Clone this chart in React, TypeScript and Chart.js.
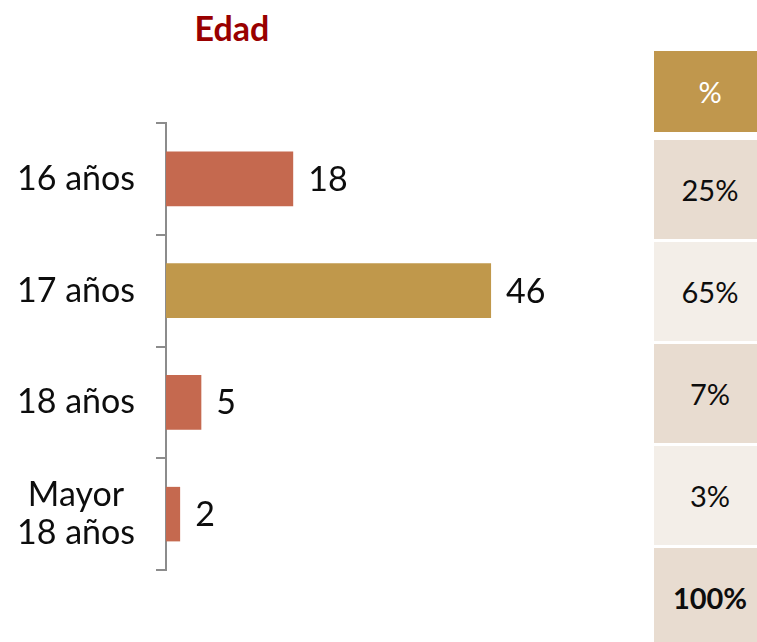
import React, { useEffect, useRef } from "react";
import { Chart, registerables } from "chart.js";

Chart.register(...registerables);

const title = "Edad";
const categories: (string | string[])[] = ["16 años", "17 años", "18 años", ["Mayor", "18 años"]];
const counts = [18, 46, 5, 2];
const barColors = ["#C5694F", "#C0984B", "#C5694F", "#C5694F"];
const tableHeader = "%";
const percentages = ["25%", "65%", "7%", "3%"];
const totalLabel = "100%";
const rowColors = ["#E8DCD0", "#F3EEE8", "#E8DCD0", "#F3EEE8"];

const FONT = "Lato, 'Open Sans', sans-serif";

const valueLabels = {
  id: "valueLabels",
  afterDatasetsDraw(chart: any) {
    const ctx = chart.ctx;
    const meta = chart.getDatasetMeta(0);
    ctx.save();
    ctx.font = `34px ${FONT}`;
    ctx.fillStyle = "#0D0D0D";
    ctx.textAlign = "left";
    ctx.textBaseline = "middle";
    meta.data.forEach((bar: any, i: number) => {
      ctx.fillText(String(chart.data.datasets[0].data[i]), bar.x + 15, bar.y + 1);
    });
    ctx.restore();
  },
};

export default function App() {
  const canvasRef = useRef<HTMLCanvasElement>(null);

  useEffect(() => {
    if (!canvasRef.current) return;
    const chart = new Chart(canvasRef.current, {
      type: "bar",
      data: {
        labels: categories as any,
        datasets: [
          {
            data: counts,
            backgroundColor: barColors,
            borderWidth: 0,
            categoryPercentage: 0.8,
            barPercentage: 0.61,
          },
        ],
      },
      options: {
        indexAxis: "y",
        animation: false,
        responsive: false,
        maintainAspectRatio: false,
        layout: { padding: { top: 123, bottom: 72, left: 0, right: 50 } },
        plugins: {
          legend: { display: false },
          title: { display: false },
          tooltip: { enabled: false },
        },
        scales: {
          x: { display: false, min: 0, max: 60 },
          y: {
            afterFit(scale: any) {
              scale.width = 166;
            },
            grid: {
              display: true,
              drawOnChartArea: false,
              drawTicks: true,
              tickLength: 10,
              color: "#8C8C8C",
              lineWidth: 2,
            },
            border: { display: true, color: "#8C8C8C", width: 2 },
            ticks: {
              color: "#0D0D0D",
              padding: 21,
              crossAlign: "center",
              font: { family: FONT, size: 34, lineHeight: 1.1 },
            },
          },
        },
      },
      plugins: [valueLabels],
    });
    return () => chart.destroy();
  }, []);

  const rowTops = [140, 242, 344, 446];

  return (
    <div
      style={{
        position: "fixed",
        left: 0,
        top: 0,
        width: 757,
        height: 642,
        overflow: "hidden",
        background: "#fff",
        fontFamily: FONT,
      }}
    >
      <div
        style={{
          position: "absolute",
          left: 132,
          width: 200,
          top: 8,
          height: 40,
          lineHeight: "40px",
          textAlign: "center",
          color: "#990000",
          fontWeight: 700,
          fontSize: 34,
        }}
      >
        {title}
      </div>
      <canvas
        ref={canvasRef}
        width={640}
        height={642}
        style={{ position: "absolute", left: 0, top: 0, width: 640, height: 642 }}
      />
      <div
        style={{
          position: "absolute",
          left: 654,
          top: 51,
          width: 112,
          height: 81,
          background: "#C0974D",
          color: "#fff",
          fontSize: 29,
          display: "flex",
          alignItems: "center",
          justifyContent: "center",
        }}
      >
        {tableHeader}
      </div>
      {percentages.map((p, i) => (
        <div
          key={i}
          style={{
            position: "absolute",
            left: 654,
            top: rowTops[i],
            width: 112,
            height: 99,
            background: rowColors[i],
            color: "#0D0D0D",
            fontSize: 29,
            display: "flex",
            alignItems: "center",
            justifyContent: "center",
          }}
        >
          {p}
        </div>
      ))}
      <div
        style={{
          position: "absolute",
          left: 654,
          top: 548,
          width: 112,
          height: 99,
          background: "#E8DCD0",
          color: "#0D0D0D",
          fontSize: 29,
          fontWeight: 700,
          display: "flex",
          alignItems: "center",
          justifyContent: "center",
        }}
      >
        {totalLabel}
      </div>
    </div>
  );
}
